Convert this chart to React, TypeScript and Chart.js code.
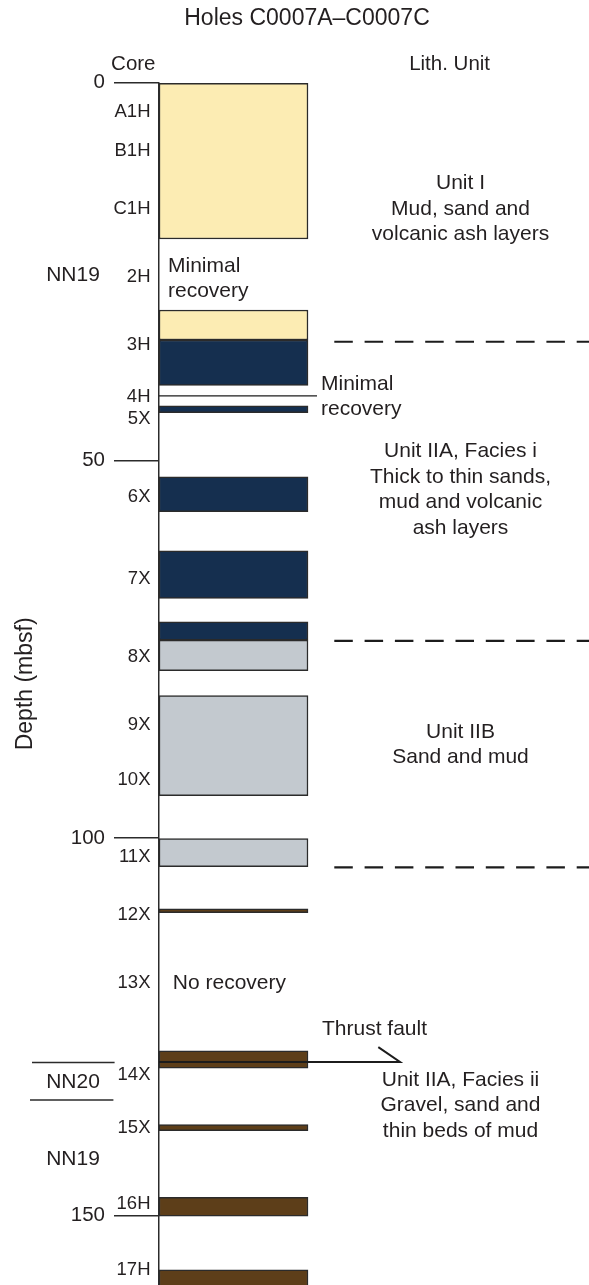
import React, { useEffect, useRef } from 'react';
import { Chart, registerables } from 'chart.js';

Chart.register(...registerables);

const FONT = '"Liberation Sans", Arial, Helvetica, sans-serif';
const INK = '#231f20';
const RULE = '#2b2b2b';

// Recovered core intervals as [top, base] in mbsf, grouped by lithologic unit
const unitIIntervals = [[0, 20.7], [30.1, 34.07]];
const unitIIAFaciesIIntervals = [[34.07, 40.1], [42.8, 43.7], [52.2, 56.8], [62.0, 68.3], [71.4, 73.8]];
const unitIIBIntervals = [[73.8, 77.85], [81.15, 94.4], [100.1, 103.8]];
const unitIIAFaciesIIIntervals = [[109.4, 109.9], [128.2, 130.5], [137.95, 138.75], [147.6, 150.1], [157.2, 160.5]];

const unitFills = ['#fcecb3', '#152f4f', '#c3c9cf', '#5d3e19'];

// Core names and the depth each label sits at
const coreNames = ['A1H', 'B1H', 'C1H', '2H', '3H', '4H', '5X', '6X', '7X', '8X', '9X', '10X', '11X', '12X', '13X', '14X', '15X', '16H', '17H'];
const coreLabelDepths = [3.85, 9.0, 16.7, 25.7, 34.7, 41.6, 44.5, 54.8, 65.7, 76.0, 85.0, 92.3, 102.5, 110.2, 119.2, 131.4, 138.4, 148.5, 157.2];

// Depth axis
const depthTicks = [0, 50, 100, 150];
const depthMax = 159.2;

// Lithologic unit boundaries (dashed) and unit descriptions
const unitBoundaryDepths = [34.3, 73.9, 103.9];
const unitTitles = ['Unit I', 'Unit IIA, Facies i', 'Unit IIB', 'Unit IIA, Facies ii'];
const unitDescriptions = [
  ['Mud, sand and', 'volcanic ash layers'],
  ['Thick to thin sands,', 'mud and volcanic', 'ash layers'],
  ['Sand and mud'],
  ['Gravel, sand and', 'thin beds of mud'],
];
const unitLabelDepths = [16.7, 53.9, 87.65, 135.4];

// Nannofossil zones
const nannoZones = ['NN19', 'NN20', 'NN19'];
const nannoZoneDepths = [25.5, 132.3, 142.5];
const nannoBoundaryDepths = [129.75, 134.7];

// Recovery notes and structure
const minimalRecoveryDepths = [25.97, 41.55];
const noRecoveryDepth = 119.2;
const core4HDepth = 41.48;
const thrustFaultDepth = 129.66;
const thrustFaultTickDepth = 127.71;
const thrustFaultLabelDepth = 125.3;

// Layout (px)
const WIDTH = 589;
const HEIGHT = 1285;
const AXIS_WIDTH = 159;
const PLOT_TOP = 82.7;
const X_SPAN = WIDTH - AXIS_WIDTH;
const COLUMN_WIDTH = 149;
const COLUMN_CENTER = COLUMN_WIDTH / 2;
const DASH_START = 175.3;
const CORE_LINE_END = 158;
const FAULT_END = 241;
const FAULT_TICK_X = 219.3;

const columnIntervals = [unitIIntervals, unitIIAFaciesIIntervals, unitIIBIntervals, unitIIAFaciesIIIntervals]
  .flatMap((list, u) => list.map((iv) => ({ top: iv[0], base: iv[1], fill: unitFills[u] })));

const annotationPlugin = {
  id: 'lithAnnotations',
  afterDraw(chart: any) {
    const { ctx } = chart;
    const xs = chart.scales.x;
    const ys = chart.scales.y;
    const py = (d: number) => ys.getPixelForValue(d);
    const px = (v: number) => xs.getPixelForValue(v);

    ctx.save();
    ctx.fillStyle = INK;
    ctx.textBaseline = 'middle';
    const text = (s: string, x: number, y: number, size: number, align: CanvasTextAlign = 'center') => {
      ctx.font = `${size}px ${FONT}`;
      ctx.textAlign = align;
      ctx.fillText(s, x, y);
    };
    const block = (lines: string[], x: number, cy: number, size: number, gap: number, align: CanvasTextAlign = 'center') => {
      const y0 = cy - ((lines.length - 1) * gap) / 2;
      lines.forEach((l, i) => text(l, x, y0 + i * gap, size, align));
    };

    // headings
    text('Holes C0007A\u2013C0007C', 307, 18.3, 23);
    text('Core', 133.3, 64.5, 20.5);
    text('Lith. Unit', 449.6, 64.5, 20.5);

    // core names
    coreNames.forEach((n, i) => text(n, 150.5, py(coreLabelDepths[i]), 18.5, 'right'));

    // nannofossil zones
    nannoZones.forEach((z, i) => text(z, 73, py(nannoZoneDepths[i]), 21));
    ctx.strokeStyle = RULE;
    ctx.lineWidth = 1.5;
    const zoneSpans = [[32, 114.6], [30, 113.4]];
    nannoBoundaryDepths.forEach((d, i) => {
      ctx.beginPath();
      ctx.moveTo(zoneSpans[i][0], py(d));
      ctx.lineTo(zoneSpans[i][1], py(d));
      ctx.stroke();
    });

    // unit descriptions
    unitTitles.forEach((t, i) => block([t, ...unitDescriptions[i]], px(301.5), py(unitLabelDepths[i]), 21, 25.5));

    // recovery notes
    block(['Minimal', 'recovery'], px(9), py(minimalRecoveryDepths[0]), 21, 24.4, 'left');
    block(['Minimal', 'recovery'], px(162), py(minimalRecoveryDepths[1]), 21, 24.8, 'left');
    text('No recovery', px(13.8), py(noRecoveryDepth), 21, 'left');
    text('Thrust fault', px(163), py(thrustFaultLabelDepth), 21, 'left');
    ctx.restore();
  },
};

export default function App() {
  const canvasRef = useRef<HTMLCanvasElement | null>(null);

  useEffect(() => {
    if (!canvasRef.current) return;

    const lineSet = (points: { x: number; y: number }[], width: number, dash: number[] = []) => ({
      type: 'line' as const,
      data: points,
      borderColor: '#1c1c1c',
      borderWidth: width,
      borderDash: dash,
      pointRadius: 0,
      tension: 0,
      fill: false,
      order: 0,
      clip: false as const,
    });

    const chart = new Chart(canvasRef.current, {
      type: 'bar',
      data: {
        datasets: [
          {
            type: 'bar',
            data: columnIntervals.map((c) => ({ x: COLUMN_CENTER, y: [c.top, c.base] })) as any,
            backgroundColor: columnIntervals.map((c) => c.fill),
            borderColor: RULE,
            borderWidth: 1.5,
            borderSkipped: false,
            barThickness: COLUMN_WIDTH,
            order: 1,
          } as any,
          lineSet([{ x: 0, y: core4HDepth }, { x: CORE_LINE_END, y: core4HDepth }], 1.3),
          lineSet(
            [
              { x: 0, y: thrustFaultDepth },
              { x: FAULT_END, y: thrustFaultDepth },
              { x: FAULT_TICK_X, y: thrustFaultTickDepth },
            ],
            2
          ),
          ...unitBoundaryDepths.map((d) => lineSet([{ x: DASH_START, y: d }, { x: X_SPAN, y: d }], 2.2, [18.5, 11.8])),
        ],
      },
      options: {
        responsive: false,
        animation: false,
        events: [],
        layout: { padding: { top: PLOT_TOP, left: 0, right: 0, bottom: 0 } },
        plugins: { legend: { display: false }, tooltip: { enabled: false }, title: { display: false } },
        scales: {
          x: { type: 'linear', min: 0, max: X_SPAN, display: false, offset: false, stacked: false },
          y: {
            type: 'linear',
            min: 0,
            max: depthMax,
            reverse: true,
            stacked: false,
            afterBuildTicks: (scale: any) => {
              scale.ticks = depthTicks.map((v) => ({ value: v }));
            },
            afterFit: (scale: any) => {
              scale.width = AXIS_WIDTH;
              scale.paddingTop = 0;
              scale.paddingBottom = 0;
            },
            border: { display: true, color: RULE, width: 1.5 },
            grid: {
              drawOnChartArea: false,
              drawTicks: true,
              tickLength: 45,
              color: RULE,
              tickColor: RULE,
              lineWidth: 1.5,
              tickWidth: 1.5,
            },
            ticks: {
              color: INK,
              padding: 9,
              font: { family: FONT, size: 20.5 },
            },
            title: {
              display: true,
              text: 'Depth (mbsf)',
              color: INK,
              font: { family: FONT, size: 23 },
              padding: { top: 12, bottom: 0 },
            },
          },
        },
      } as any,
      plugins: [annotationPlugin],
    });

    return () => chart.destroy();
  }, []);

  return (
    <div style={{ position: 'absolute', left: 0, top: 0, width: WIDTH, height: HEIGHT, background: '#fff' }}>
      <canvas ref={canvasRef} width={WIDTH} height={HEIGHT} style={{ display: 'block' }} />
    </div>
  );
}
